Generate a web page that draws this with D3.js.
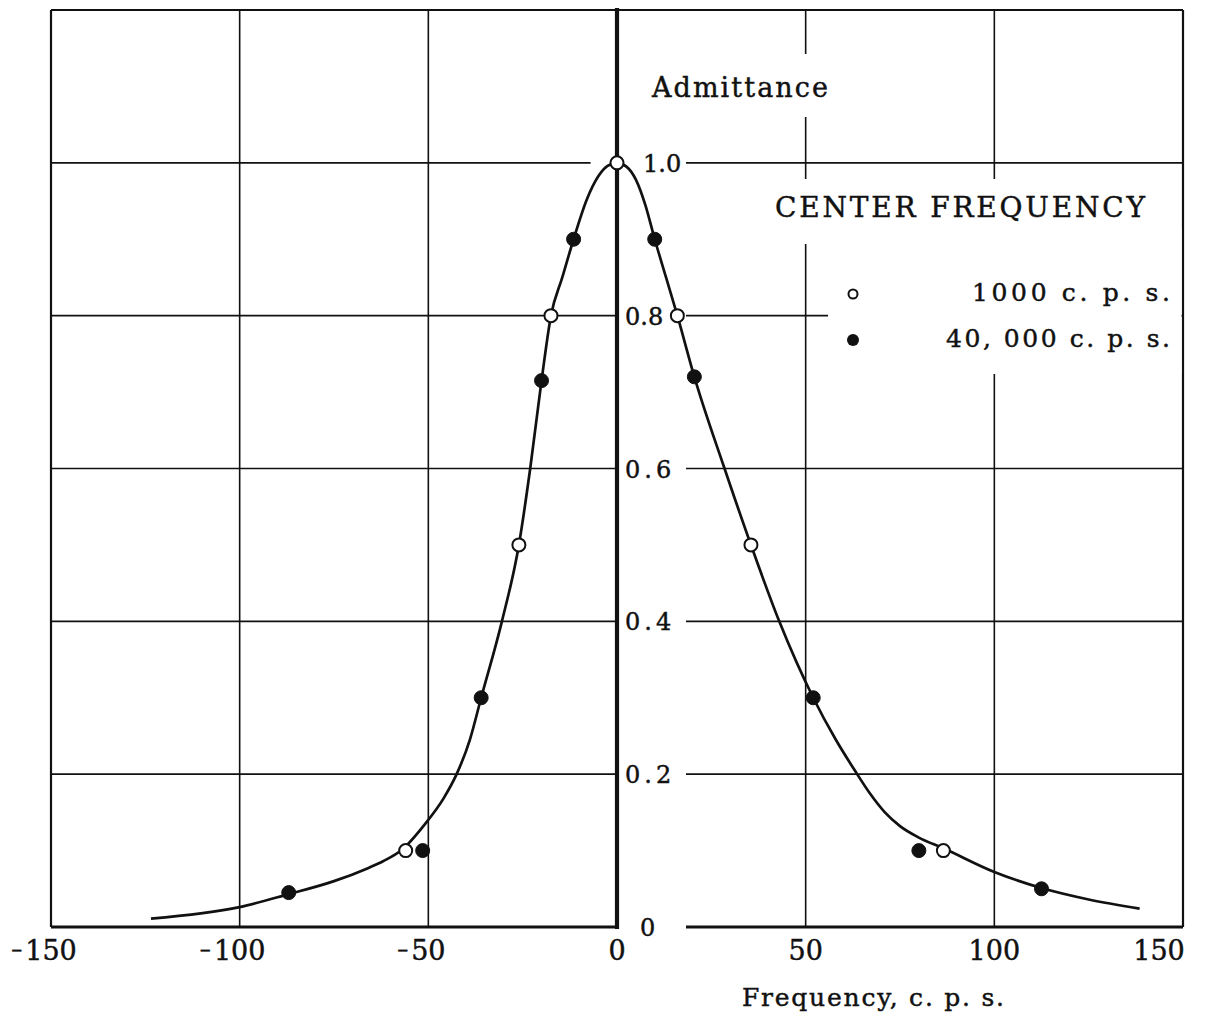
<!DOCTYPE html>
<html>
<head>
<meta charset="utf-8">
<script src="https://cdn.jsdelivr.net/npm/d3@7"></script>
<style>
  html, body { margin: 0; padding: 0; background: #fff; }
  svg { display: block; }
  text { font-family: "DejaVu Serif", "Liberation Serif", serif; fill: #111; stroke: #111; stroke-width: 0.45; }
</style>
</head>
<body>
<svg id="chart" width="1219" height="1014"></svg>
<script>
// Measured admittance, 1000 c.p.s. center frequency (open circles)
const freqOpen = [-56, -26, -17.5, 0, 16, 35.5, 86.5];
const admOpen  = [0.10, 0.50, 0.80, 1.00, 0.80, 0.50, 0.10];

// Measured admittance, 40,000 c.p.s. center frequency (filled circles)
const freqFilled = [-87, -51.5, -36, -20, -11.5, 10, 20.5, 52, 80, 112.5];
const admFilled  = [0.045, 0.10, 0.30, 0.715, 0.90, 0.90, 0.72, 0.30, 0.10, 0.05];

// Fitted response curve
const curveFreq = [-123.5, -100, -87, -75, -66, -62, -57, -51, -46, -42.5, -39, -36, -30.5, -26, -23, -20, -17.5, -14.5, -11.5, -8, -5, -2.5, 0, 2.5, 5, 7.5, 10, 13, 16, 20.5, 28.5, 35.5, 43, 52, 58, 63, 67, 71, 75, 80, 86.5, 100, 112.5, 125, 138.5];
const curveAdm  = [0.011, 0.026, 0.043, 0.060, 0.077, 0.086, 0.101, 0.134, 0.168, 0.20, 0.245, 0.30, 0.40, 0.50, 0.60, 0.715, 0.80, 0.85, 0.90, 0.952, 0.982, 0.996, 1.00, 0.995, 0.978, 0.945, 0.90, 0.85, 0.80, 0.72, 0.60, 0.50, 0.40, 0.30, 0.245, 0.205, 0.175, 0.150, 0.132, 0.117, 0.103, 0.072, 0.051, 0.036, 0.024];

// Axis ticks
const xTicks = [-150, -100, -50, 0, 50, 100, 150];
const yTicks = [0, 0.2, 0.4, 0.6, 0.8, 1.0];
const yTickLabels = ["0", "0.2", "0.4", "0.6", "0.8", "1.0"];

const legendLabels = ["1000 c. p. s.", "40, 000 c. p. s."];

const svg = d3.select("#chart");
svg.append("rect").attr("width", 1219).attr("height", 1014).attr("fill", "#fff");

const x = d3.scaleLinear().domain([-150, 150]).range([51, 1183]);
const y = d3.scaleLinear().domain([0, 1.2]).range([927, 10]);

const gGrid = svg.append("g");
// vertical grid lines
gGrid.selectAll("line.v").data(xTicks).join("line")
  .attr("x1", d => x(d)).attr("x2", d => x(d))
  .attr("y1", y(1.2)).attr("y2", y(0))
  .attr("stroke", "#111").attr("stroke-width", d => (d === -150 || d === 150) ? 2.2 : 1.6);
// horizontal grid lines
gGrid.selectAll("line.h").data(yTicks.concat([1.2])).join("line")
  .attr("x1", x(-150)).attr("x2", x(150))
  .attr("y1", d => y(d)).attr("y2", d => y(d))
  .attr("stroke", "#111").attr("stroke-width", d => d === 0 ? 3.2 : (d === 1.2 ? 2.2 : 1.6));

// knock-out layer for labels sitting over the grid
const gKnock = svg.append("g");
const gText = svg.append("g");

// y axis title
const yTitle = gText.append("text")
  .attr("x", 652).attr("y", 97)
  .attr("font-size", 27)
  .attr("textLength", 176).attr("lengthAdjust", "spacing")
  .text("Admittance");

// legend title
const legTitle = gText.append("text")
  .attr("x", 775).attr("y", 217)
  .attr("font-size", 28)
  .attr("textLength", 370).attr("lengthAdjust", "spacing")
  .text("CENTER FREQUENCY");

function knock(bb, l, r, t, b) {
  gKnock.append("rect")
    .attr("x", bb.x - l).attr("y", bb.y - t)
    .attr("width", bb.width + l + r).attr("height", bb.height + t + b)
    .attr("fill", "#fff");
}
knock(yTitle.node().getBBox(), 6, 6, 18, 14);
knock(legTitle.node().getBBox(), 6, 6, 12, 20);

// legend panel
gKnock.append("rect")
  .attr("x", 828).attr("y", 228).attr("width", 1181.5 - 828).attr("height", 146)
  .attr("fill", "#fff");

// y tick label gaps to the right of the axis
gKnock.selectAll("rect.yt").data(yTicks).join("rect")
  .attr("x", x(0) + 2).attr("y", d => y(d) - 4)
  .attr("width", 686 - x(0) - 2).attr("height", 8)
  .attr("fill", "#fff");
// short break in the 1.0 line left of the peak
gKnock.append("rect")
  .attr("x", x(-7)).attr("y", y(1) - 4)
  .attr("width", x(0) - x(-7) - 2).attr("height", 8)
  .attr("fill", "#fff");

// central axis
svg.append("line")
  .attr("x1", x(0)).attr("x2", x(0))
  .attr("y1", y(1.2) - 2).attr("y2", y(0) + 2)
  .attr("stroke", "#111").attr("stroke-width", 4.2);

// response curve
const line = d3.line()
  .x((d, i) => x(curveFreq[i]))
  .y((d, i) => y(curveAdm[i]))
  .curve(d3.curveMonotoneX);
svg.append("path")
  .attr("d", line(curveFreq))
  .attr("fill", "none").attr("stroke", "#111").attr("stroke-width", 2.7);

// markers
svg.append("g").selectAll("circle").data(freqFilled).join("circle")
  .attr("cx", d => x(d)).attr("cy", (d, i) => y(admFilled[i]))
  .attr("r", 7).attr("fill", "#111").attr("stroke", "#111").attr("stroke-width", 1);
svg.append("g").selectAll("circle").data(freqOpen).join("circle")
  .attr("cx", d => x(d)).attr("cy", (d, i) => y(admOpen[i]))
  .attr("r", 6.5).attr("fill", "#fff").attr("stroke", "#111").attr("stroke-width", 2);

// y tick labels
gText.selectAll("text.yt").data(yTicks).join("text")
  .attr("x", d => x(0) + (d === 1 ? 26 : (d === 0 ? 23 : 8)))
  .attr("y", d => y(d) + 9)
  .attr("font-size", 24)
  .attr("letter-spacing", d => (d === 0 || d === 1 || d === 0.8) ? 0 : 4)
  .text((d, i) => yTickLabels[i]);

// x tick labels (digits centred on the grid line, minus sign hanging left)
const xt = gText.selectAll("g.xt").data(xTicks).join("g")
  .attr("transform", d => `translate(${x(d) - (d === 150 ? 24 : 0)},960)`);
xt.append("text")
  .attr("text-anchor", "middle")
  .attr("font-size", 27)
  .text(d => String(Math.abs(d)));
xt.filter(d => d < 0).append("text")
  .attr("text-anchor", "end")
  .attr("x", d => -(String(Math.abs(d)).length * 8.6) - 3)
  .attr("y", -3)
  .attr("font-size", 22)
  .text("–");

// x axis title
gText.append("text")
  .attr("x", 742).attr("y", 1006)
  .attr("font-size", 25)
  .attr("textLength", 262).attr("lengthAdjust", "spacing")
  .text("Frequency, c. p. s.");

// legend entries
svg.append("circle").attr("cx", 853).attr("cy", 294).attr("r", 4.5)
  .attr("fill", "#fff").attr("stroke", "#111").attr("stroke-width", 2);
svg.append("circle").attr("cx", 853).attr("cy", 340).attr("r", 6)
  .attr("fill", "#111");
const legendWidths = [198, 224];
gText.selectAll("text.leg").data(legendLabels).join("text")
  .attr("x", (d, i) => 1170 - legendWidths[i]).attr("y", (d, i) => 301 + i * 46)
  .attr("font-size", 25)
  .attr("textLength", (d, i) => legendWidths[i]).attr("lengthAdjust", "spacing")
  .text(d => d);
</script>
</body>
</html>
